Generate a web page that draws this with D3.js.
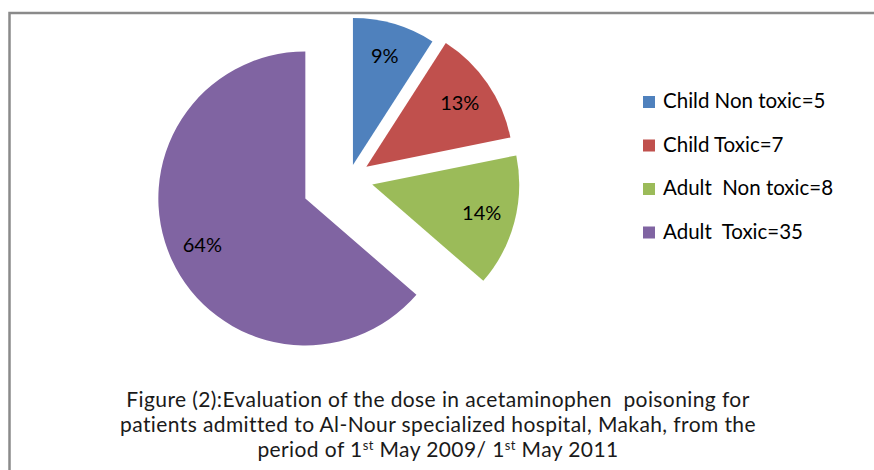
<!DOCTYPE html>
<html>
<head>
<meta charset="utf-8">
<script src="https://cdn.jsdelivr.net/npm/d3@7"></script>
<style>
  html, body { margin: 0; padding: 0; background: #fff; }
  #chart { width: 874px; height: 470px; }
  text { white-space: pre; font-variant-ligatures: none; }
</style>
</head>
<body>
<div id="chart"></div>
<script>
const categories = ["Child Non toxic", "Child Toxic", "Adult  Non toxic", "Adult  Toxic"];
const counts = [5, 7, 8, 35];
const pctLabels = ["9%", "13%", "14%", "64%"];
const captionLines = [
  "Figure (2):Evaluation of the dose in acetaminophen  poisoning for",
  "patients admitted to Al-Nour specialized hospital, Makah, from the",
  "period of 1|st| May 2009/ 1|st| May 2011"
];

const colors = ["#4F81BD", "#C0504D", "#9BBB59", "#8064A2"];
// how far each slice is pulled out from the centre
const explode = [14, 21, 24, 48];

const width = 874, height = 470;
const svg = d3.select("#chart").append("svg").attr("width", width).attr("height", height);

// frame (only top and left edges fall inside the picture)
svg.append("path")
  .attr("d", `M9.5,${height + 5} V13 H${width + 5}`)
  .attr("fill", "none")
  .attr("stroke", "#8a8a8a")
  .attr("stroke-width", 2.5);

const cx = 349, cy = 178.5, r = 147;
const pie = d3.pie().sort(null).value(d => d);
const arcs = pie(counts);
const arc = d3.arc().innerRadius(0).outerRadius(r);
const labelArc = d3.arc().innerRadius(r * 0.77).outerRadius(r * 0.77);

const g = svg.append("g").attr("transform", `translate(${cx},${cy})`);

const slice = g.selectAll(".slice")
  .data(arcs)
  .enter()
  .append("g")
  .attr("class", "slice")
  .attr("transform", (d, i) => {
    const a = (d.startAngle + d.endAngle) / 2;
    return `translate(${Math.sin(a) * explode[i]},${-Math.cos(a) * explode[i]})`;
  });

slice.append("path")
  .attr("d", arc)
  .attr("fill", (d, i) => colors[i]);

slice.append("text")
  .attr("transform", d => `translate(${labelArc.centroid(d)})`)
  .attr("text-anchor", "middle")
  .attr("dy", "0.35em")
  .attr("font-family", "Lato, 'Noto Sans', sans-serif")
  .attr("font-size", 20)
  .attr("fill", "#000")
  .text((d, i) => pctLabels[i]);

// legend
const legend = svg.append("g").attr("transform", "translate(643,96)");
const row = legend.selectAll(".row")
  .data(categories)
  .enter()
  .append("g")
  .attr("transform", (d, i) => `translate(0,${i * 43.5})`);

row.append("rect")
  .attr("width", 12)
  .attr("height", 12)
  .attr("fill", (d, i) => colors[i]);

row.append("text")
  .attr("x", 20)
  .attr("y", 12)
  .attr("font-family", "Lato, 'Noto Sans', sans-serif")
  .attr("font-size", 20.5)
  .attr("fill", "#000")
  .text((d, i) => `${d}=${counts[i]}`);

// caption, with superscripts marked by |..|
const caption = svg.append("text")
  .attr("text-anchor", "middle")
  .attr("font-family", "Lato, 'Noto Sans', sans-serif")
  .attr("font-size", 21)
  .attr("letter-spacing", 0.4)
  .attr("fill", "#1a1a1a");

captionLines.forEach((line, i) => {
  const t = caption.append("tspan")
    .attr("x", 438)
    .attr("y", 407 + i * 25);
  line.split("|").forEach((part, j) => {
    if (j % 2 === 1) {
      t.append("tspan").attr("font-size", 13).attr("baseline-shift", "7").text(part);
    } else {
      t.append("tspan").text(part);
    }
  });
});
</script>
</body>
</html>
